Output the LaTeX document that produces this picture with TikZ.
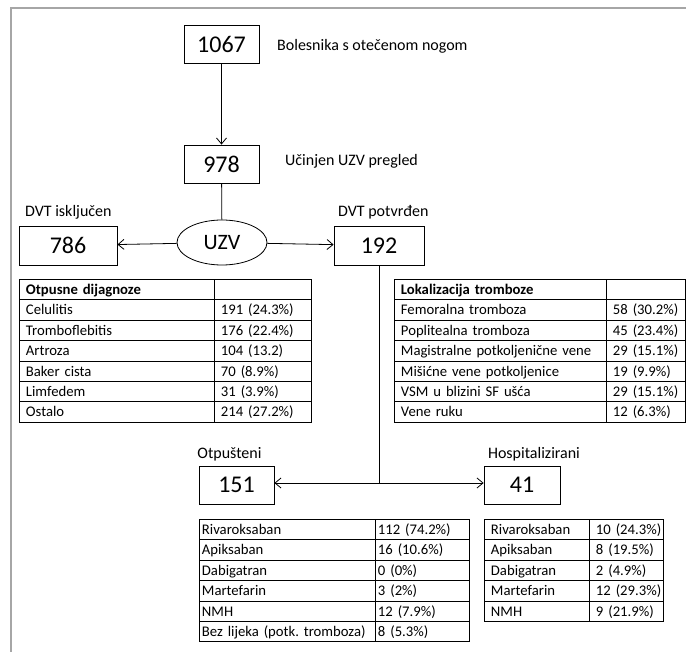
\documentclass[tikz,border=0pt]{standalone}
\usepackage{fontspec}
\setmainfont{Carlito}
\usetikzlibrary{shapes.geometric,arrows.meta}
\frenchspacing

\begin{document}
\begin{tikzpicture}[x=1pt,y=-1pt,count node/.style={draw, line width=0.8pt, inner sep=0pt, font=\fontsize{24}{28}\selectfont},label node/.style={anchor=west, inner sep=0pt, font=\fontsize{16}{19}\selectfont},cell node/.style={draw, line width=0.9pt, anchor=north west, inner xsep=6.5pt, inner ysep=0pt, minimum height=20.4pt, text height=12pt, text depth=2.3pt, align=left, font=\fontsize{14.7}{17}\selectfont, execute at begin node=\hbox\bgroup, execute at end node=\egroup},tight cell/.style={cell node, inner xsep=2.5pt},head node/.style={cell node, font=\bfseries\fontsize{14.7}{17}\selectfont},flow/.style={line width=0.8pt, -{Straight Barb[length=6pt,width=10pt]}},link/.style={line width=0.8pt},frame/.style={line width=1.6pt, black!35}]%
\path[use as bounding box] (0,0) rectangle (686,652);%
\draw[frame] (11,652) -- (11,8) -- (686,8);%
  % Flow%
\node[count node, minimum width=75pt, minimum height=38pt] (n1067) at (221.5,44) {1067};%
\node[label node] (l1067) at (277,46) {Bolesnika s otečenom nogom};%
\node[count node, minimum width=75pt, minimum height=38pt] (n978) at (221.5,164) {978};%
\node[label node] (l978) at (285,161) {Učinjen UZV pregled};%
\node[count node, ellipse, minimum width=90pt, minimum height=45pt, font=\fontsize{22}{26}\selectfont] (uzv) at (222,242.5) {UZV};%
\node[count node, minimum width=98pt, minimum height=39pt] (n786) at (68,245.5) {786};%
\node[label node] (l786) at (25,212) {DVT isključen};%
\node[count node, minimum width=90pt, minimum height=39pt] (n192) at (379,245.5) {192};%
\node[label node] (l192) at (338,212) {DVT potvrđen};%
\node[count node, minimum width=75pt, minimum height=38pt] (n151) at (236.5,485) {151};%
\node[label node, anchor=center] (l151) at (229.5,454) {Otpušteni};%
\node[count node, minimum width=76pt, minimum height=38pt] (n41) at (522,485) {41};%
\node[label node, anchor=center] (l41) at (534,454) {Hospitalizirani};%
\coordinate (split) at (379,483);%
\draw[flow] (n1067) -- (n978);%
\draw[link] (n978) -- (uzv);%
\draw[flow] (uzv) -- (n786);%
\draw[flow] (uzv) -- (n192);%
\draw[link] (n192) -- (split);%
\draw[flow] (split) -- (split -| n151.east);%
\draw[flow] (split) -- (split -| n41.west);%
  % Otpusne dijagnoze%
\node[head node, text width=182pt] (dg0) at (19,279) {Otpusne dijagnoze};%
\node[cell node, text width=84pt] (dg0v) at (214,279) {};%
\node[cell node, text width=182pt] (dg1) at (19,299.4) {Celulitis};%
\node[cell node, text width=84pt] (dg1v) at (214,299.4) {191 (24.3\%)};%
\node[cell node, text width=182pt] (dg2) at (19,319.8) {Tromboflebitis};%
\node[cell node, text width=84pt] (dg2v) at (214,319.8) {176 (22.4\%)};%
\node[cell node, text width=182pt] (dg3) at (19,340.2) {Artroza};%
\node[cell node, text width=84pt] (dg3v) at (214,340.2) {104 (13.2)};%
\node[cell node, text width=182pt] (dg4) at (19,360.6) {Baker cista};%
\node[cell node, text width=84pt] (dg4v) at (214,360.6) {70 (8.9\%)};%
\node[cell node, text width=182pt] (dg5) at (19,381) {Limfedem};%
\node[cell node, text width=84pt] (dg5v) at (214,381) {31 (3.9\%)};%
\node[cell node, text width=182pt] (dg6) at (19,401.4) {Ostalo};%
\node[cell node, text width=84pt] (dg6v) at (214,401.4) {214 (27.2\%)};%
  % Lokalizacija tromboze%
\node[head node, text width=199pt] (lk0) at (394,279) {Lokalizacija tromboze};%
\node[cell node, text width=66pt] (lk0v) at (606,279) {};%
\node[cell node, text width=199pt] (lk1) at (394,299.4) {Femoralna tromboza};%
\node[cell node, text width=66pt] (lk1v) at (606,299.4) {58 (30.2\%)};%
\node[cell node, text width=199pt] (lk2) at (394,319.8) {Poplitealna tromboza};%
\node[cell node, text width=66pt] (lk2v) at (606,319.8) {45 (23.4\%)};%
\node[cell node, text width=199pt] (lk3) at (394,340.2) {Magistralne potkoljenične vene};%
\node[cell node, text width=66pt] (lk3v) at (606,340.2) {29 (15.1\%)};%
\node[cell node, text width=199pt] (lk4) at (394,360.6) {Mišićne vene potkoljenice};%
\node[cell node, text width=66pt] (lk4v) at (606,360.6) {19 (9.9\%)};%
\node[cell node, text width=199pt] (lk5) at (394,381) {VSM u blizini SF ušća};%
\node[cell node, text width=66pt] (lk5v) at (606,381) {29 (15.1\%)};%
\node[cell node, text width=199pt] (lk6) at (394,401.4) {Vene ruku};%
\node[cell node, text width=66pt] (lk6v) at (606,401.4) {12 (6.3\%)};%
  % Otpusteni%
\node[tight cell, text width=171pt] (ot1) at (199,519) {Rivaroksaban};%
\node[tight cell, text width=89pt] (ot1v) at (375,519) {112 (74.2\%)};%
\node[tight cell, text width=171pt] (ot2) at (199,539.4) {Apiksaban};%
\node[tight cell, text width=89pt] (ot2v) at (375,539.4) {16 (10.6\%)};%
\node[tight cell, text width=171pt] (ot3) at (199,559.8) {Dabigatran};%
\node[tight cell, text width=89pt] (ot3v) at (375,559.8) {0 (0\%)};%
\node[tight cell, text width=171pt] (ot4) at (199,580.2) {Martefarin};%
\node[tight cell, text width=89pt] (ot4v) at (375,580.2) {3 (2\%)};%
\node[tight cell, text width=171pt] (ot5) at (199,600.6) {NMH};%
\node[tight cell, text width=89pt] (ot5v) at (375,600.6) {12 (7.9\%)};%
\node[tight cell, text width=171pt] (ot6) at (199,621) {Bez lijeka (potk. tromboza)};%
\node[tight cell, text width=89pt] (ot6v) at (375,621) {8 (5.3\%)};%
  % Hospitalizirani%
\node[cell node, text width=92pt] (ho1) at (484,519) {Rivaroksaban};%
\node[cell node, text width=61pt] (ho1v) at (589,519) {10 (24.3\%)};%
\node[cell node, text width=92pt] (ho2) at (484,539.4) {Apiksaban};%
\node[cell node, text width=61pt] (ho2v) at (589,539.4) {8 (19.5\%)};%
\node[cell node, text width=92pt] (ho3) at (484,559.8) {Dabigatran};%
\node[cell node, text width=61pt] (ho3v) at (589,559.8) {2 (4.9\%)};%
\node[cell node, text width=92pt] (ho4) at (484,580.2) {Martefarin};%
\node[cell node, text width=61pt] (ho4v) at (589,580.2) {12 (29.3\%)};%
\node[cell node, text width=92pt] (ho5) at (484,600.6) {NMH};%
\node[cell node, text width=61pt] (ho5v) at (589,600.6) {9 (21.9\%)};%
\end{tikzpicture}
\end{document}
